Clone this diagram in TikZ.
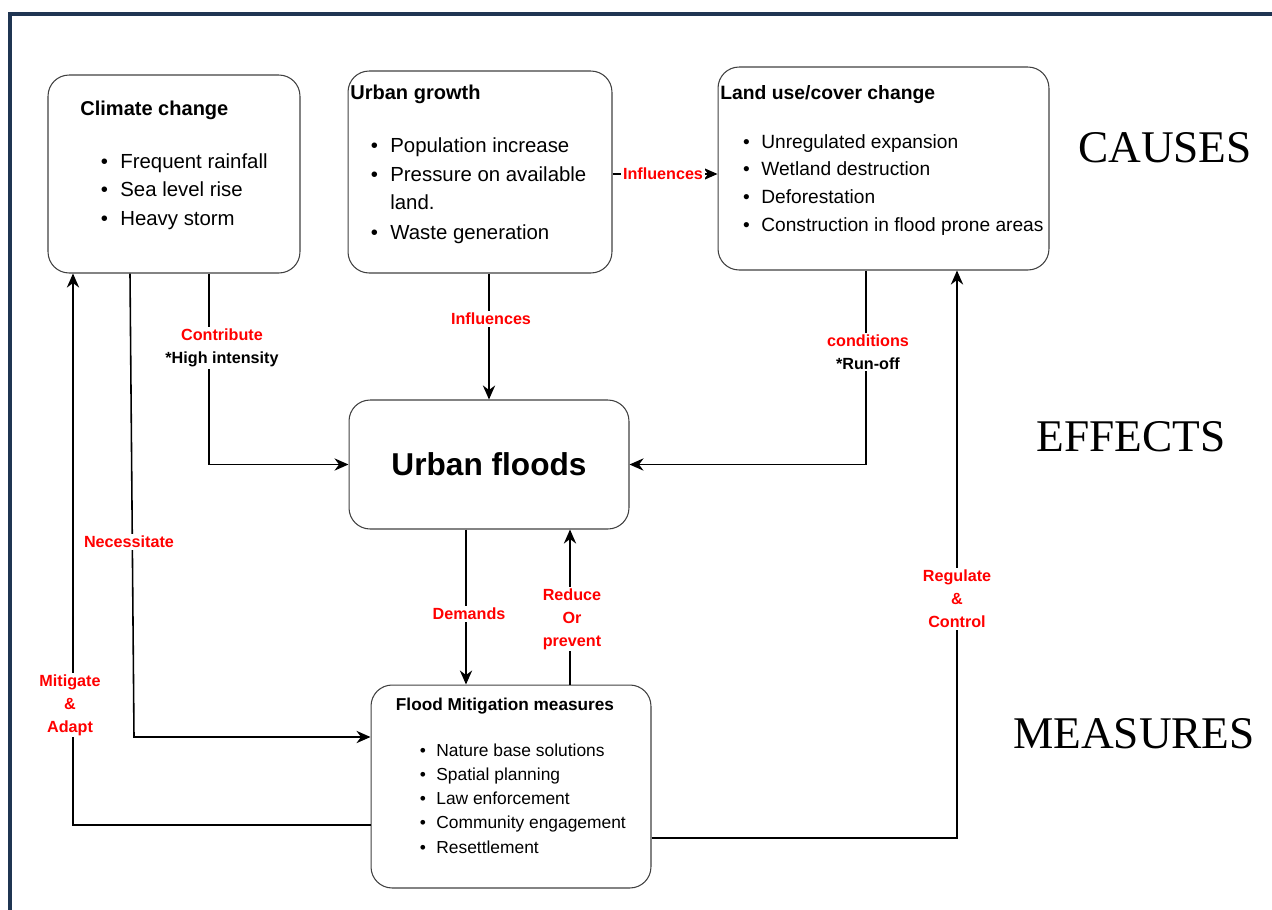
\documentclass[tikz,border=0pt]{standalone}
\usepackage{fontspec}
\setmainfont{Liberation Sans}
\newfontfamily\stagefont{Liberation Serif}
\usetikzlibrary{arrows.meta}
\definecolor{framenavy}{HTML}{1F3552}
\newcommand{\itm}[1]{\llap{\textbullet\hspace{0.6em}}#1}
\newcommand{\fs}[1]{\fontsize{#1}{1.2\dimexpr#1pt\relax}\selectfont}

\begin{document}
\begin{tikzpicture}[x=0.02cm,y=-0.02cm,
	box/.style={draw=black!75,line width=0.6pt,rounded corners=12pt,inner sep=0pt},
	arr/.style={line width=0.9pt,-{Stealth[length=8pt,width=7pt]}},
	lbl/.style={fill=white,text=red,font=\fontsize{9.2}{13}\selectfont\bfseries,align=center,inner sep=1pt},
	ttl/.style={anchor=base west,inner sep=0pt,font=\fs{11.4}\bfseries},
	entry/.style={anchor=base west,inner sep=0pt},
	stage/.style={font=\stagefont\fs{25.8}}]
	\useasboundingbox (0,0) rectangle (1272,910);
	\draw[framenavy,line width=2.8pt] (10,910) -- (10,14) -- (1272,14);

	\node[box,minimum width=5.04cm,minimum height=3.96cm] (climate) at (174,174) {};
	\node[box,minimum width=5.28cm,minimum height=4.04cm] (growth) at (480,172) {};
	\node[box,minimum width=6.62cm,minimum height=4.06cm] (landuse) at (883.5,168.5) {};
	\node[box,minimum width=5.6cm,minimum height=2.58cm,font=\fs{18}\bfseries] (floods) at (489,464.5) {Urban floods};
	\node[box,minimum width=5.6cm,minimum height=4.06cm] (mitig) at (511,786.5) {};

	\node[ttl] (climate-t) at (80,115) {Climate change};
	\foreach \t [count=\i] in {Frequent rainfall,Sea level rise,Heavy storm}
		\node[entry,font=\fs{11.6}] (climate-\i) at (120,{139.5+28.5*\i}) {\itm{\t}};

	\node[ttl] (growth-t) at (350,99) {Urban growth};
	\node[entry,font=\fs{11.6}] (growth-1) at (390,152) {\itm{Population increase}};
	\node[entry,font=\fs{11.6}] (growth-2) at (390,181) {\itm{Pressure on available}};
	\node[entry,font=\fs{11.6}] (growth-2b) at (390,209) {land.};
	\node[entry,font=\fs{11.6}] (growth-3) at (390,239) {\itm{Waste generation}};

	\node[ttl,font=\fs{11}\bfseries] (landuse-t) at (720,99) {Land use/cover change};
	\foreach \t [count=\i] in {Unregulated expansion,Wetland destruction,Deforestation,Construction in flood prone areas}
		\node[entry,font=\fs{10.9}] (landuse-\i) at (761,{120.3+27.7*\i}) {\itm{\t}};

	\node[inner sep=0pt,anchor=base,font=\fs{9.8}\bfseries] (mitig-t) at (505,710) {Flood Mitigation measures};
	\foreach \t [count=\i] in {Nature base solutions,Spatial planning,Law enforcement,Community engagement,Resettlement}
		\node[entry,font=\fs{9.9}] (mitig-\i) at (436,{731.7+24.3*\i}) {\itm{\t}};

	\node[stage] (causes) at (1165,148) {CAUSES};
	\node[stage] (effects) at (1131,437) {EFFECTS};
	\node[stage] (measures) at (1134,734) {MEASURES};

	\coordinate (cc) at (209,0);
	\coordinate (lu) at (866,0);
	\coordinate (dm) at (466,0);
	\coordinate (rp) at (570,0);
	\coordinate (nc0) at (130,0);
	\coordinate (nc) at (134,737);
	\coordinate (ma) at (73,825);
	\coordinate (rc) at (957,838);

	\draw[arr] (growth.east |- 0,174) -- (landuse.west |- 0,174);
	\draw[arr] (climate.south -| cc) |- (floods.west);
	\draw[arr] (growth.south -| floods.north) -- (floods.north);
	\draw[arr] (landuse.south -| lu) |- (floods.east);
	\draw[arr] (floods.south -| dm) -- (mitig.north -| dm);
	\draw[arr] (mitig.north -| rp) -- (floods.south -| rp);
	\draw[arr] (climate.south -| nc0) -- (nc) -- (mitig.west |- nc);
	\draw[arr] (mitig.west |- ma) -| (climate.south -| ma);
	\draw[arr] (mitig.east |- rc) -| (landuse.south -| rc);

	\node[lbl] (l-infl1) at (663,174) {Influences};
	\node[lbl] (l-contr) at (222,348) {Contribute\\\textcolor{black}{*High intensity}};
	\node[lbl] (l-infl2) at (491,319) {Influences};
	\node[lbl] (l-cond) at (868,352) {conditions\\\textcolor{black}{*Run-off}};
	\node[lbl] (l-dem) at (469,614) {Demands};
	\node[lbl] (l-red) at (572,619) {Reduce\\Or\\prevent};
	\node[lbl] (l-nec) at (129,542) {Necessitate};
	\node[lbl] (l-mit) at (70,705) {Mitigate\\\&\\Adapt};
	\node[lbl] (l-reg) at (957,599) {Regulate\\\&\\Control};
\end{tikzpicture}
\end{document}
